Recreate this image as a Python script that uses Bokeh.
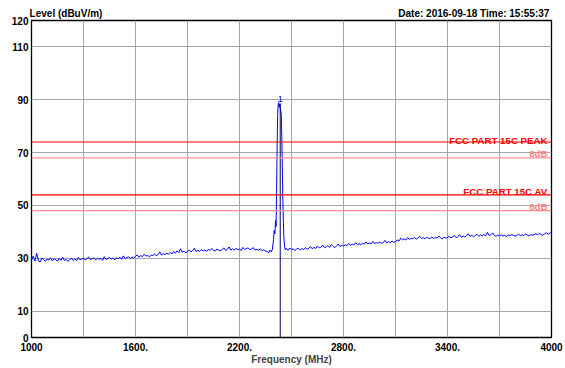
import numpy as np
from bokeh.plotting import figure
from bokeh.models import Range1d, FixedTicker, Span, Label, LinearAxis
from bokeh.embed import file_html
from bokeh.resources import INLINE

# ---------------- data ----------------
# noise floor below the carrier, 1000..2350 MHz in 10 MHz steps
floor_low_start = 1000
floor_low_step = 10
floor_low = [
    29.2, 30.8, 28.9, 31.9, 29.0, 28.6, 30.1, 29.4, 28.8, 29.7,
    29.3, 30.2, 29.0, 29.8, 29.4, 28.9, 29.9, 29.2, 30.4, 29.1,
    29.6, 28.8, 29.5, 30.0, 29.2, 29.8, 29.0, 30.3, 29.4, 29.7,
    30.1, 29.3, 29.9, 30.5, 29.5, 29.8, 30.2, 29.4, 30.0, 29.6,
    30.0, 29.2, 30.6, 29.5, 29.9, 30.3, 29.7, 30.1, 29.4, 30.2,
    29.8, 30.4, 29.6, 30.9, 29.9, 30.2, 30.6, 29.8, 30.5, 30.1,
    30.7, 31.3, 30.4, 31.0, 30.6, 31.5, 30.8, 31.1, 30.5, 31.2,
    31.0, 31.6, 30.9, 31.4, 32.4, 31.2, 31.8, 31.3, 32.0, 31.5,
    32.2, 31.6, 32.5, 31.9, 32.8, 32.1, 33.6, 32.3, 32.7, 32.0,
    32.6, 33.1, 32.4, 32.9, 33.8, 32.5, 33.0, 32.6, 33.3, 32.8,
    33.1, 32.6, 33.4, 32.9, 33.7, 33.0, 32.7, 33.5, 33.1, 32.8,
    33.3, 33.9, 32.9, 33.4, 34.3, 33.1, 33.6, 33.0, 33.8, 33.2,
    33.5, 33.0, 34.1, 33.3, 33.7, 33.9, 33.2, 33.6, 34.0, 33.1,
    33.4, 33.0, 33.6, 32.9, 33.2, 32.7,
]
# carrier region
peak_freq = [2360, 2368, 2376, 2384, 2390, 2396, 2400, 2404, 2408, 2411,
             2414, 2417, 2420, 2423, 2426, 2429, 2432, 2435, 2438, 2441,
             2444, 2446, 2448, 2450, 2453, 2456, 2460, 2464, 2470]
peak_level = [32.6, 32.0, 33.1, 32.4, 33.5, 37.0, 40.5, 39.2, 44.3, 42.0,
              55.0, 72.0, 84.0, 88.1, 88.9, 87.2, 88.4, 86.7, 86.0, 84.5,
              76.0, 68.5, 60.0, 52.0, 44.0, 38.0, 34.5, 33.2, 33.8]
# noise floor above the carrier, 2480..4000 MHz in 10 MHz steps
floor_high_start = 2480
floor_high_step = 10
floor_high = [
    33.0, 33.9,
    33.2, 33.6, 32.9, 33.5, 33.8, 33.1, 33.7, 33.3, 34.0, 33.4,
    33.8, 34.4, 33.6, 34.1, 33.7, 34.6, 33.9, 34.2, 35.0, 34.0,
    34.3, 34.8, 34.1, 35.2, 34.5, 34.0, 34.7, 35.4, 34.4, 34.9,
    34.6, 35.1, 34.8, 35.6, 34.9, 35.3, 35.0, 35.9, 35.2, 35.5,
    35.1, 35.7, 35.3, 36.2, 35.4, 35.8, 35.5, 36.4, 35.6, 35.9,
    35.7, 36.1, 35.6, 36.0, 36.8, 35.8, 36.3, 35.9, 36.5, 36.0,
    36.3, 36.9, 36.5, 37.6, 37.0, 37.3, 36.9, 37.8, 37.2, 37.5,
    37.4, 37.9, 37.2, 37.7, 38.3, 37.5, 37.8, 37.3, 38.0, 37.6,
    37.5, 38.1, 37.4, 37.9, 37.6, 38.4, 37.7, 37.3, 38.0, 37.6,
    37.9, 38.3, 37.7, 38.1, 38.6, 37.8, 38.2, 38.9, 37.9, 38.4,
    38.0, 38.5, 39.3, 38.2, 38.7, 38.1, 38.6, 39.1, 38.3, 38.8,
    38.4, 39.0, 38.5, 39.8, 38.6, 38.9, 39.6, 38.7, 38.3, 38.8,
    38.5, 38.9, 38.4, 38.7, 38.2, 38.8, 38.5, 39.0, 38.6, 38.4,
    38.7, 39.1, 38.5, 38.9, 38.6, 39.2, 38.8, 38.5, 39.0, 38.7,
    38.9, 39.3, 38.8, 39.5, 39.0, 38.7, 39.2, 39.6, 39.1, 39.4,
    40.0,
]

marker_freq = [2435]
marker_level = [88.6]

limit_levels = [74, 54]
limit_names = ["FCC PART 15C PEAK", "FCC PART 15C AV"]
margin_levels = [68, 48]
margin_names = ["6dB", "6dB"]

x_ticks = [1000, 1300, 1600, 1900, 2200, 2500, 2800, 3100, 3400, 3700, 4000]
x_tick_labels = ["1000", "", "1600.", "", "2200.", "", "2800.", "", "3400.", "", "4000"]
y_ticks = [0, 10, 30, 50, 70, 90, 110, 120]
y_tick_labels = ["0", "10", "30", "50", "70", "90", "110", "120"]

header_texts = ["Level (dBuV/m)", "Date: 2016-09-18  Time: 15:55:37"]
header_anchor = [1199, 3560]   # horizontal centres of the header texts (MHz scale)

# ---------------- assemble trace ----------------
f_low = floor_low_start + floor_low_step * np.arange(len(floor_low))
f_high = floor_high_start + floor_high_step * np.arange(len(floor_high))
freq = np.concatenate([f_low, np.array(peak_freq), f_high])
level = np.concatenate([np.array(floor_low), np.array(peak_level), np.array(floor_high)])

FONT = "Liberation Sans"

p = figure(width=565, height=368, output_backend="svg", toolbar_location=None,
           x_range=Range1d(1000, 4000), y_range=Range1d(0, 120),
           min_border_left=31, min_border_right=14, min_border_top=20, min_border_bottom=31)
p.background_fill_color = "white"
p.border_fill_color = "white"
p.outline_line_color = "black"
p.outline_line_width = 1.3

xax = p.xaxis[0]
yax = p.yaxis[0]
xax.ticker = FixedTicker(ticks=x_ticks)
xax.major_label_overrides = {t: l for t, l in zip(x_ticks, x_tick_labels)}
yax.ticker = FixedTicker(ticks=y_ticks)
yax.major_label_overrides = {t: l for t, l in zip(y_ticks, y_tick_labels)}

top_ax = LinearAxis(ticker=FixedTicker(ticks=header_anchor),
                    major_label_overrides={a: t for a, t in zip(header_anchor, header_texts)})

for ax in (xax, yax, top_ax):
    ax.major_tick_in = 0
    ax.major_tick_out = 0
    ax.minor_tick_in = 0
    ax.minor_tick_out = 0
    ax.axis_line_color = None
    ax.major_label_text_font = FONT
    ax.major_label_text_font_style = "bold"
    ax.major_label_text_font_size = "10px"
    ax.major_label_text_color = "black"
xax.major_label_standoff = 5
yax.major_label_standoff = 3
top_ax.major_label_standoff = 2
xax.axis_label = "Frequency (MHz)"
xax.axis_label_text_font = FONT
xax.axis_label_text_font_style = "bold"
xax.axis_label_text_font_size = "10px"
xax.axis_label_standoff = 0
p.add_layout(top_ax, "above")

p.xgrid.grid_line_color = "#a6a6a6"
p.ygrid.grid_line_color = "#a6a6a6"
p.xgrid.grid_line_width = 1
p.ygrid.grid_line_width = 1

# limit lines
for lv in limit_levels:
    p.add_layout(Span(location=lv, dimension="width", line_color="#ff0000", line_width=1.2))
for lv in margin_levels:
    p.add_layout(Span(location=lv, dimension="width", line_color="#ff8f8f", line_width=1.2))

# trace
p.line(freq, level, line_color="#0000ff", line_width=1)

# marker
p.segment(x0=marker_freq, y0=[0], x1=marker_freq, y1=marker_level, line_color="#00006e", line_width=1)
p.add_layout(Label(x=marker_freq[0], y=marker_level[0], text="1", text_align="center",
                   text_baseline="alphabetic", y_offset=4, text_font=FONT,
                   text_font_size="9px", text_color="#0000b0"))

# limit texts
for lv, name, off in zip(limit_levels, limit_names, [2, 3]):
    p.add_layout(Label(x=4000, y=lv, text=name, text_align="right", text_baseline="alphabetic",
                       x_offset=-4, y_offset=off, text_font=FONT, text_font_style="bold",
                       text_font_size="9.7px", text_color="#ff0000"))
for lv, name in zip(margin_levels, margin_names):
    p.add_layout(Label(x=4000, y=lv, text=name, text_align="right", text_baseline="alphabetic",
                       x_offset=-4, y_offset=4, text_font=FONT, text_font_style="bold",
                       text_font_size="9.7px", text_color="#ff8080"))

open("out.html", "w").write(file_html(p, INLINE))
